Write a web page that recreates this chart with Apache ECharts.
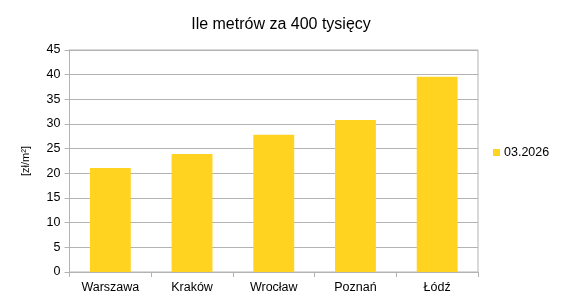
<!DOCTYPE html>
<html><head><meta charset="utf-8">
<script src="https://cdn.jsdelivr.net/npm/echarts@6/dist/echarts.min.js"></script>
<style>html,body{margin:0;padding:0;background:#fff}#c{width:562px;height:301px}</style>
</head><body><div id="c"></div>
<script>
const categories = ['Warszawa', 'Kraków', 'Wrocław', 'Poznań', 'Łódź'];
const values = [21.1, 23.9, 27.8, 30.8, 39.6];
const seriesName = '03.2026';
const titleText = 'Ile metrów za 400 tysięcy';
const yAxisName = '[zł/m²]';

const chart = echarts.init(document.getElementById('c'), null, {renderer: 'canvas'});
const font = 'Liberation Sans, Arial, sans-serif';
const grey = '#b3b3b3';
chart.setOption({
  animation: false,
  textStyle: {fontFamily: font},
  title: {text: titleText, left: 'center', top: 12, textStyle: {fontFamily: font, fontSize: 16, fontWeight: 'normal', color: '#000'}},
  legend: {data: [seriesName], orient: 'vertical', left: 488, top: 141, itemWidth: 7, itemHeight: 7, itemGap: 5, icon: 'rect',
    textStyle: {fontFamily: font, fontSize: 12.5, color: '#000', padding: [0,0,0,-1]}},
  grid: {left: 69.5, right: 84, top: 50, bottom: 29, show: true, borderColor: grey, borderWidth: 1, containLabel: false},
  xAxis: {type: 'category', data: categories,
    axisLine: {lineStyle: {color: grey}}, axisTick: {show: true, length: 5, lineStyle: {color: grey}},
    axisLabel: {color: '#000', fontSize: 12.5, fontFamily: font, margin: 9}},
  yAxis: {type: 'value', min: 0, max: 45, interval: 5,
    name: yAxisName, nameLocation: 'middle', nameGap: 38, nameRotate: 90,
    nameTextStyle: {fontSize: 11, color: '#000', fontFamily: font},
    axisLine: {show: true, lineStyle: {color: grey}}, axisTick: {show: true, length: 5, lineStyle: {color: grey}},
    splitLine: {lineStyle: {color: grey}},
    axisLabel: {color: '#000', fontSize: 12.5, fontFamily: font, margin: 9}},
  series: [{type: 'bar', name: seriesName, data: values, barWidth: '50%', itemStyle: {color: '#ffd320'}}]
});
</script></body></html>
